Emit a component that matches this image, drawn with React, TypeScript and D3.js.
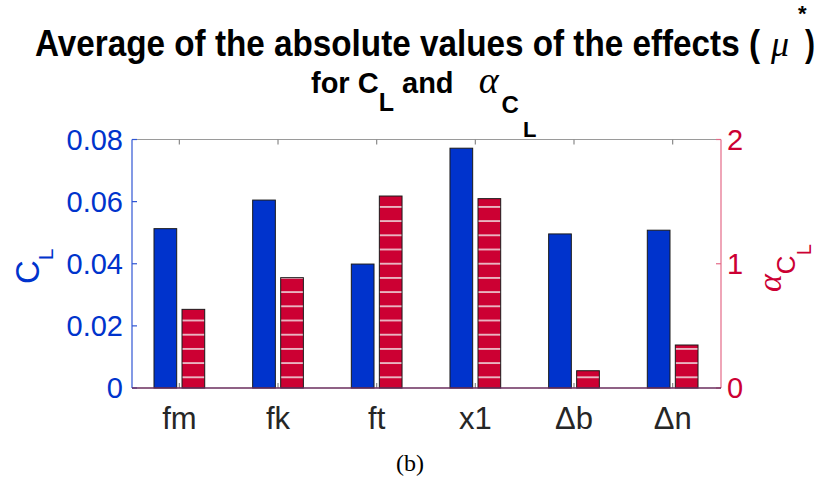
import React from "react";
import * as d3 from "d3";

// Mean absolute elementary effects (mu*) per input factor
const factors = ["fm", "fk", "ft", "x1", "Δb", "Δn"];
const muCL = [0.0513, 0.0605, 0.0399, 0.0772, 0.0496, 0.0508];
const muAlphaCL = [0.633, 0.888, 1.545, 1.524, 0.139, 0.346];
const leftTicks = [0, 0.02, 0.04, 0.06, 0.08];
const rightTicks = [0, 1, 2];

const W = 817;
const H = 480;
const plot = { left: 132, right: 721, top: 139.5, bottom: 388 };

const BLUE = "#0033cc";
const RED = "#cc0033";
const TEXT = "#262626";
const SANS = "'Liberation Sans', Arial, Helvetica, sans-serif";
const SERIF = "'Liberation Serif', 'DejaVu Serif', serif";

export default function App() {
  const x = d3.scaleLinear().domain([0.52, 6.49]).range([plot.left, plot.right]);
  const yL = d3.scaleLinear().domain([0, 0.08]).range([plot.bottom, plot.top]);
  const yR = d3.scaleLinear().domain([0, 2]).range([plot.bottom, plot.top]);
  const off = 0.142; // half distance between paired bar centres (data units)
  const bw = x(0.23) - x(0); // bar width in px

  return (
    <svg width={W} height={H} style={{ display: "block", position: "absolute", left: 0, top: 0 }}>
      <defs>
        <pattern
          id="stripes"
          patternUnits="userSpaceOnUse"
          width={8}
          height={14.2}
          y={plot.bottom - 10.7}
        >
          <rect width={8} height={14.2} fill={RED} />
          <rect y={-0.7} width={8} height={1.4} fill="#f4f4f4" />
          <rect y={13.5} width={8} height={1.4} fill="#f4f4f4" />
        </pattern>
      </defs>
      <rect width={W} height={H} fill="#ffffff" />

      {/* Title, line 1 */}
      <g fontFamily={SANS} fontWeight="bold" fontSize={36} fill="#000">
        <text x={35} y={56} textLength={725} lengthAdjust="spacingAndGlyphs">
          Average of the absolute values of the effects (
        </text>
        <text x={771} y={56} fontFamily={SERIF} fontStyle="italic" fontWeight="normal">
          μ
        </text>
        <text x={798} y={21} fontSize={22}>
          *
        </text>
        <text x={805} y={56} textLength={10} lengthAdjust="spacingAndGlyphs">
          )
        </text>
      </g>
      {/* Title, line 2 */}
      <text x={311} y={93} fontFamily={SANS} fontWeight="bold" fontSize={29} fill="#000">
        for C<tspan dy={18} fontSize={25}>L</tspan>
        <tspan dy={-18}> and </tspan>
        <tspan dx={17} fontFamily={SERIF} fontStyle="italic" fontWeight="normal" fontSize={38}>α</tspan>
        <tspan dx={3} dy={20} fontSize={24}>C</tspan>
        <tspan dx={4} dy={24} fontSize={22}>L</tspan>
      </text>

      {/* Box top line and ticks */}
      <line x1={plot.left} x2={plot.right} y1={plot.top} y2={plot.top} stroke="#9a9a9a" strokeWidth={1.2} />
      {factors.map((_, i) => (
        <g key={"t" + i}>
          <line x1={x(i + 1)} x2={x(i + 1)} y1={plot.top} y2={plot.top + 5} stroke="#8a8a8a" strokeWidth={1.2} />
          <line x1={x(i + 1)} x2={x(i + 1)} y1={plot.bottom} y2={plot.bottom - 5} stroke="#8a8a8a" strokeWidth={1.2} />
        </g>
      ))}

      {/* Bars: C_L on left axis */}
      {muCL.map((v, i) => (
        <rect
          key={"b" + i}
          x={x(i + 1 - off) - bw / 2}
          y={yL(v)}
          width={bw}
          height={yL(0) - yL(v)}
          fill={BLUE}
          stroke="#1a1a1a"
          strokeWidth={1}
        />
      ))}
      {/* Bars: alpha_CL on right axis, hatched */}
      {muAlphaCL.map((v, i) => (
        <rect
          key={"r" + i}
          x={x(i + 1 + off) - bw / 2}
          y={yR(v)}
          width={bw}
          height={yR(0) - yR(v)}
          fill="url(#stripes)"
          stroke="#1a1a1a"
          strokeWidth={1}
        />
      ))}

      {/* Left axis */}
      <line x1={plot.left} x2={plot.left} y1={plot.top} y2={plot.bottom} stroke="#2f55d4" strokeWidth={1.2} />
      {leftTicks.map((t) => (
        <g key={"l" + t}>
          <line x1={plot.left} x2={plot.left + 5} y1={yL(t)} y2={yL(t)} stroke="#2f55d4" strokeWidth={1.2} />
          <text
            x={plot.left - 9}
            y={yL(t)}
            dy="0.36em"
            textAnchor="end"
            fontFamily={SANS}
            fontSize={29}
            fill={BLUE}
          >
            {t === 0 ? "0" : d3.format(".2f")(t)}
          </text>
        </g>
      ))}
      <text transform="translate(39,284) rotate(-90)" fontFamily={SANS} fontSize={33} fill={BLUE}>
        C<tspan dy={14} fontSize={21}>L</tspan>
      </text>

      {/* Right axis */}
      <line x1={plot.right} x2={plot.right} y1={plot.top} y2={plot.bottom} stroke="#e46a88" strokeWidth={1.2} />
      {rightTicks.map((t) => (
        <g key={"rt" + t}>
          <line x1={plot.right} x2={plot.right - 5} y1={yR(t)} y2={yR(t)} stroke="#e46a88" strokeWidth={1.2} />
          <text
            x={plot.right + 6}
            y={yR(t)}
            dy="0.36em"
            textAnchor="start"
            fontFamily={SANS}
            fontSize={29}
            fill={RED}
          >
            {t}
          </text>
        </g>
      ))}
      <text transform="translate(781,292) rotate(-90)" fill={RED}>
        <tspan fontFamily={SERIF} fontStyle="italic" fontSize={34}>α</tspan>
        <tspan dy={14} fontFamily={SANS} fontSize={26}>C</tspan>
        <tspan dy={16} fontFamily={SANS} fontSize={20}>L</tspan>
      </text>

      {/* Bottom axis line */}
      <line x1={plot.left} x2={plot.right} y1={plot.bottom} y2={plot.bottom} stroke="#6a2d5c" strokeWidth={1.6} />
      {factors.map((f, i) => (
        <text
          key={"x" + i}
          x={x(i + 1)}
          y={429}
          textAnchor="middle"
          fontFamily={SANS}
          fontSize={31}
          fill={TEXT}
        >
          {f}
        </text>
      ))}

      {/* Panel caption */}
      <text x={410} y={471} textAnchor="middle" fontFamily={SERIF} fontSize={24} fill="#000">
        (b)
      </text>
    </svg>
  );
}
